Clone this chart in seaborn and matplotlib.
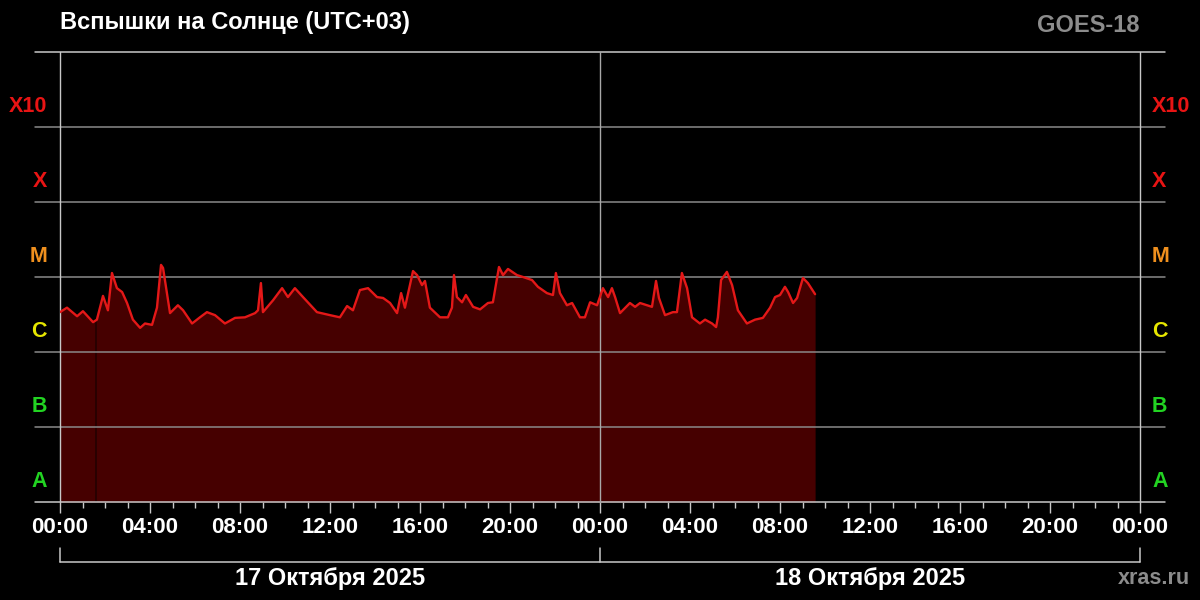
import numpy as np
import matplotlib
matplotlib.use('Agg')
import matplotlib.pyplot as plt
import seaborn as sns

# GOES-18 X-ray flux, hours since 17 Oct 2025 00:00 (UTC+03), flux in units of 1e-6 W/m^2 (C-class)
hours = [0.00, 0.31, 0.76, 1.02, 1.47, 1.64, 1.91, 2.13, 2.31, 2.53, 2.76, 2.98,
         3.24, 3.56, 3.78, 4.09, 4.31, 4.49, 4.58, 4.89, 5.24, 5.47, 5.87, 6.22,
         6.53, 6.89, 7.33, 7.78, 8.22, 8.67, 8.80, 8.93, 9.02, 9.47, 9.87, 10.13,
         10.44, 10.80, 11.42, 12.00, 12.44, 12.76, 13.02, 13.33, 13.69, 14.09, 14.36,
         14.67, 14.98, 15.16, 15.33, 15.69, 15.87, 16.09, 16.22, 16.44, 16.89, 17.24,
         17.42, 17.51, 17.64, 17.87, 18.04, 18.36, 18.67, 19.02, 19.24, 19.51, 19.69,
         19.91, 20.31, 20.58, 20.98, 21.24, 21.64, 21.91, 22.04, 22.22, 22.53, 22.76,
         23.11, 23.33, 23.56, 23.87, 24.13, 24.36, 24.53, 24.67, 24.89, 25.33, 25.56,
         25.78, 26.31, 26.49, 26.62, 26.89, 27.24, 27.42, 27.64, 27.87, 28.09, 28.44,
         28.67, 28.98, 29.16, 29.24, 29.38, 29.64, 29.87, 30.13, 30.53, 30.89, 31.24,
         31.56, 31.78, 32.00, 32.22, 32.36, 32.58, 32.76, 33.02, 33.24, 33.56]
flux_c = [3.4, 3.9, 3.0, 3.5, 2.5, 2.7, 5.6, 3.6, 11.3, 7.1, 6.3, 4.5,
          2.7, 2.1, 2.4, 2.3, 3.9, 14.5, 13.2, 3.3, 4.2, 3.6, 2.4, 2.9,
          3.4, 3.1, 2.4, 2.85, 2.9, 3.3, 3.6, 8.3, 3.4, 4.9, 7.1, 5.4,
          7.1, 5.4, 3.4, 3.1, 2.9, 4.1, 3.6, 6.7, 7.1, 5.4, 5.25,
          4.5, 3.3, 6.1, 3.9, 12.0, 10.6, 7.8, 8.85, 3.9, 2.9, 2.9,
          3.9, 10.6, 5.4, 4.6, 5.75, 4.0, 3.7, 4.5, 4.6, 13.6, 10.6,
          12.8, 10.6, 10.0, 9.1, 7.4, 6.1, 5.75, 11.3, 6.1, 4.2, 4.5,
          2.9, 2.9, 4.6, 4.2, 7.1, 5.4, 7.1, 5.4, 3.3, 4.5, 4.0,
          4.5, 4.0, 8.85, 5.25, 3.1, 3.4, 3.4, 11.3, 7.1, 2.9, 2.4,
          2.7, 2.4, 2.15, 2.9, 9.1, 11.7, 7.8, 3.6, 2.4, 2.7, 2.85,
          3.9, 5.4, 5.75, 7.4, 6.3, 4.5, 5.25, 9.7, 8.3, 5.9]
gap_hours = [1.6]

class_labels = ['A', 'B', 'C', 'M', 'X', 'X10']
class_colors = ['#22d322', '#22d322', '#e6e600', '#f0901e', '#e81414', '#e81414']
class_edges = [1e-8, 1e-7, 1e-6, 1e-5, 1e-4, 1e-3, 1e-2]

tick_hours = list(range(0, 49, 4))
tick_labels = ['00:00', '04:00', '08:00', '12:00', '16:00', '20:00',
               '00:00', '04:00', '08:00', '12:00', '16:00', '20:00', '00:00']
day_labels = ['17 Октября 2025', '18 Октября 2025']
day_centers = [12, 36]
day_edges = [0, 24, 48]

sns.set_theme(style='dark')
plt.rcParams['font.family'] = ['Liberation Sans', 'DejaVu Sans']
plt.rcParams['font.weight'] = 'bold'

fig = plt.figure(figsize=(12, 6), dpi=100, facecolor='black')
ax = fig.add_axes([0.05, 1 - 502 / 600, 0.90, 450 / 600])
ax.set_facecolor('black')

x = np.array(hours)
y = np.array(flux_c) * 1e-6

ax.fill_between(x, y, 1e-8, color='#460000', lw=0, zorder=1)
for g in gap_hours:
    ax.vlines(g, 1e-8, np.interp(g, x, y), color='#240000', lw=1.2, zorder=1.5)
sns.lineplot(x=x, y=y, ax=ax, color='#e41818', lw=1.7, zorder=3)

ax.set_yscale('log')
ax.set_ylim(1e-8, 1e-2)
ax.set_xlim(0, 48)
ax.set_xlabel('')
ax.set_ylabel('')
ax.grid(False)
for s in ax.spines.values():
    s.set_visible(False)

# horizontal class borders, extended past the plot edges
ytr = ax.get_yaxis_transform()
for lev in class_edges:
    c = '#c8c8c8' if lev in (1e-8, 1e-2) else '#8a8a8a'
    ax.plot([-0.0231, 1.0231], [lev, lev], transform=ytr, color=c, lw=1.1,
            clip_on=False, zorder=2)

# vertical frame and day separator
for d in day_edges:
    ax.axvline(d, color='#c8c8c8' if d != 24 else '#a8a8a8', lw=1, zorder=2.5,
               clip_on=False)

# class labels on both sides, sitting in the lower part of each band
for i, lab in enumerate(class_labels):
    ym = class_edges[i] * 10 ** 0.27
    ax.text(-0.012, ym, lab, transform=ytr, ha='right', va='center',
            color=class_colors[i], fontsize=15.5, fontweight='bold')
    ax.text(1.0111, ym, lab, transform=ytr, ha='left', va='center',
            color=class_colors[i], fontsize=15.5, fontweight='bold')
ax.set_yticks([])
ax.minorticks_off()

ax.set_xticks(tick_hours)
ax.set_xticklabels(tick_labels, color='white', fontsize=16, fontweight='bold')
ax.set_xticks(range(0, 49), minor=True)
ax.tick_params(axis='x', which='major', direction='out', length=8, width=1,
               color='#c8c8c8', pad=3, bottom=True)
ax.tick_params(axis='x', which='minor', direction='out', length=4, width=1,
               color='#c8c8c8', bottom=True)
ax.tick_params(axis='y', which='both', left=False, right=False)

# day brackets below the time axis
xtr = ax.get_xaxis_transform()
ax.plot([day_edges[0], day_edges[-1]], [-0.1333, -0.1333], transform=xtr,
        color='#c8c8c8', lw=1.1, clip_on=False)
for d in day_edges:
    ax.plot([d, d], [-0.1022, -0.1333], transform=xtr, color='#c8c8c8',
            lw=1.1, clip_on=False)
for xc, lab in zip(day_centers, day_labels):
    ax.text(xc, -0.169, lab, transform=xtr, ha='center', va='center',
            color='white', fontsize=17, fontweight='bold')

fig.text(0.05, 1 - 23 / 600, 'Вспышки на Солнце (UTC+03)', ha='left', va='center',
         color='white', fontsize=17, fontweight='bold')
fig.text(0.95, 1 - 25 / 600, 'GOES-18', ha='right', va='center',
         color='#8c8c8c', fontsize=17, fontweight='bold')
fig.text(1190 / 1200, 1 - 578 / 600, 'xras.ru', ha='right', va='center',
         color='#8c8c8c', fontsize=15.5, fontweight='bold')

fig.savefig('out.png', dpi=100, facecolor='black')
